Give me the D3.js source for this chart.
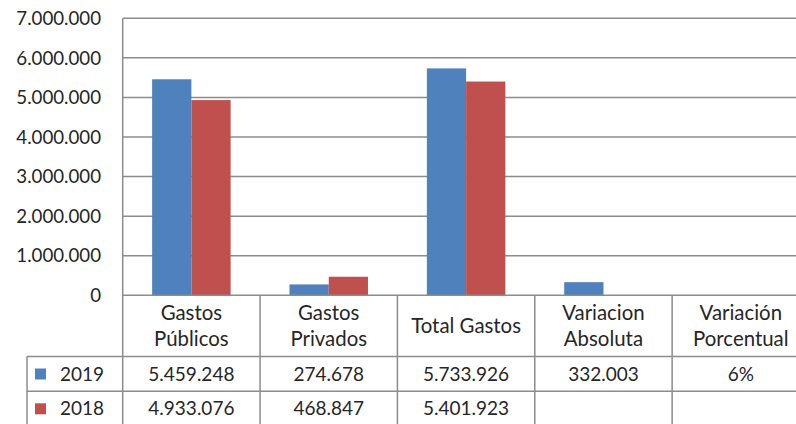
<!DOCTYPE html>
<html>
<head>
<meta charset="utf-8">
<script src="https://cdn.jsdelivr.net/npm/d3@7"></script>
<style>
  html, body { margin: 0; padding: 0; background: #fff; }
  text { font-family: Lato, "Open Sans", sans-serif; fill: #262626; }
</style>
</head>
<body>
<svg id="chart" width="796" height="424"></svg>
<script>
// chart data
const categories = ['Gastos\nPúblicos', 'Gastos\nPrivados', 'Total Gastos', 'Variacion\nAbsoluta', 'Variación\nPorcentual'];
const seriesNames = ['2019', '2018'];
const values2019 = [5459248, 274678, 5733926, 332003, 0.06];
const values2018 = [4933076, 468847, 5401923, null, null];
const percentColumn = [false, false, false, false, true];
const yTicks = [0, 1000000, 2000000, 3000000, 4000000, 5000000, 6000000, 7000000];

const colors = {'2019': '#4f81bd', '2018': '#c0504d'};
const lineColor = '#8c8c8c';

const locale = d3.formatLocale({decimal: ',', thousands: '.', grouping: [3], currency: ['', '']});
const fmtNum = locale.format(',.0f');
const fmtPct = locale.format('.0%');

const svg = d3.select('#chart');

const plotLeft = 122.7, plotRight = 809.5, plotTop = 18.3, zero = 295.3;
const tableLeft = 27;
const headerBottom = 356.5;
const rowH = 34.8;

const x = d3.scaleBand().domain(categories).range([plotLeft, plotRight]).padding(0);
const xs = d3.scaleBand().domain(seriesNames).range([0, x.bandwidth()]).paddingInner(0).paddingOuter(0.75);
const y = d3.scaleLinear().domain([0, 7000000]).range([zero, plotTop]);

const rows = seriesNames.map((name, i) => ({
    name,
    values: i === 0 ? values2019 : values2018
}));

// gridlines
svg.append('g')
    .selectAll('line')
    .data(yTicks.filter(d => d > 0))
    .join('line')
    .attr('x1', plotLeft).attr('x2', plotRight)
    .attr('y1', d => y(d)).attr('y2', d => y(d))
    .attr('stroke', lineColor).attr('stroke-width', 1.5);

// y labels
svg.append('g')
    .selectAll('text')
    .data(yTicks)
    .join('text')
    .attr('x', 101)
    .attr('y', d => y(d) + 6.7)
    .attr('text-anchor', 'end')
    .attr('font-size', 18.7)
    .text(d => fmtNum(d));

// bars
const groups = svg.append('g')
    .selectAll('g')
    .data(rows)
    .join('g')
    .attr('fill', d => colors[d.name]);

groups.selectAll('rect')
    .data(d => d.values.map((v, i) => ({name: d.name, cat: categories[i], v})).filter(d => d.v != null))
    .join('rect')
    .attr('x', d => x(d.cat) + xs(d.name))
    .attr('width', xs.bandwidth())
    .attr('y', d => y(d.v))
    .attr('height', d => zero - y(d.v));

// data table lines
const tbl = svg.append('g').attr('stroke', lineColor).attr('stroke-width', 1.5);
const tableBottom = headerBottom + rowH * 2 + 10;

tbl.append('line').attr('x1', plotLeft).attr('x2', plotRight).attr('y1', zero).attr('y2', zero);
[0, 1].forEach(i => {
    const yy = headerBottom + rowH * i;
    tbl.append('line').attr('x1', tableLeft).attr('x2', plotRight).attr('y1', yy).attr('y2', yy);
});
tbl.append('line').attr('x1', tableLeft).attr('x2', tableLeft).attr('y1', headerBottom).attr('y2', tableBottom);
tbl.append('line').attr('x1', plotLeft).attr('x2', plotLeft).attr('y1', plotTop).attr('y2', tableBottom);
tbl.selectAll('line.sep')
    .data(categories.slice(1))
    .join('line')
    .attr('class', 'sep')
    .attr('x1', d => x(d)).attr('x2', d => x(d))
    .attr('y1', zero).attr('y2', tableBottom);

// category headers
svg.append('g')
    .selectAll('text')
    .data(categories)
    .join('text')
    .attr('text-anchor', 'middle')
    .attr('font-size', 20.4)
    .attr('x', d => x(d) + x.bandwidth() / 2)
    .attr('y', d => d.includes('\n') ? 319.5 : 333)
    .each(function (d) {
        const t = d3.select(this);
        d.split('\n').forEach((line, i) => {
            t.append('tspan')
                .attr('x', x(d) + x.bandwidth() / 2)
                .attr('dy', i === 0 ? 0 : 26.5)
                .text(line);
        });
    });

// table rows
rows.forEach((r, i) => {
    const base = headerBottom + rowH * i + 24;
    svg.append('rect')
        .attr('x', 35).attr('y', base - 12)
        .attr('width', 11).attr('height', 11)
        .attr('fill', colors[r.name]);
    svg.append('text')
        .attr('x', 60).attr('y', base)
        .attr('font-size', 19)
        .text(r.name);
    svg.append('g')
        .selectAll('text')
        .data(r.values.map((v, j) => ({v, cat: categories[j], pct: percentColumn[j]})).filter(d => d.v != null))
        .join('text')
        .attr('x', d => x(d.cat) + x.bandwidth() / 2)
        .attr('y', base)
        .attr('text-anchor', 'middle')
        .attr('font-size', 19)
        .text(d => d.pct ? fmtPct(d.v) : fmtNum(d.v));
});
</script>
</body>
</html>
